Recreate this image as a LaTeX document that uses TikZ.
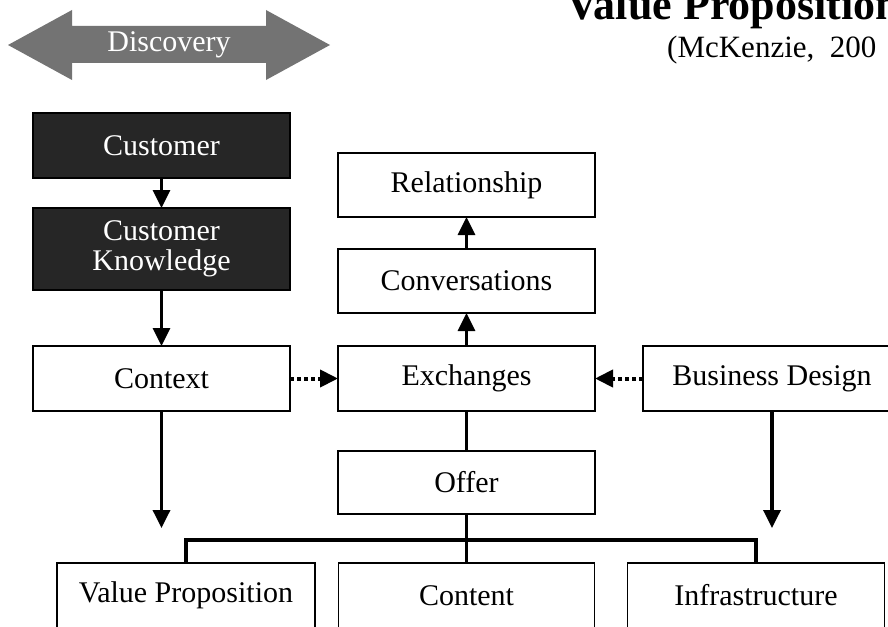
\documentclass[tikz,border=0pt]{standalone}
\usepackage{fontspec}
\setmainfont{Liberation Serif}
\usetikzlibrary{arrows.meta}
\begin{document}
\begin{tikzpicture}[x=1pt,y=-1pt,
  box/.style={draw=black, line width=1.8pt, fill=white, minimum width=257pt,
    minimum height=65pt, inner sep=0pt, outer sep=0pt, align=center,
    font=\fontsize{30}{30}\selectfont},
  darkbox/.style={box, fill=black!85, text=white},
  flow/.style={line width=3pt, -{Triangle[width=17pt,length=18pt]}},
  link/.style={line width=3.5pt, line join=miter},
  hint/.style={line width=4pt, dash pattern=on 4pt off 3pt,
    -{Triangle[width=17pt,length=18pt]}}
]
\useasboundingbox (0,0) rectangle (888,626);
\clip (0,0) rectangle (888,626);

% heading and citation
\node[anchor=base west, inner sep=0pt, font=\fontsize{44}{44}\selectfont\bfseries]
  (title) at (566,20) {Value Proposition};
\node[anchor=base west, inner sep=0pt, font=\fontsize{31}{31}\selectfont]
  (cite) at (667,58) {(McKenzie,\hspace{0.5em}200};

% double-headed discovery arrow
\fill[black!55] (8,45) -- (72,10) -- (72,26) -- (266,26) -- (266,10) -- (330,45)
  -- (266,80) -- (266,63) -- (72,63) -- (72,80) -- cycle;
\node[text=white, font=\fontsize{30}{30}\selectfont] (disc) at (169,45) {Discovery};

% left column
\node[darkbox] (cust) at (161.5,145.5) {Customer};
\node[darkbox, minimum height=82pt] (know) at (161.5,249) {Customer\\Knowledge};
\node[box] (ctx) at (161.5,378.5) {Context};

% centre column
\node[box, minimum height=64pt] (rel) at (466.5,185) {Relationship};
\node[box, minimum height=64pt] (conv) at (466.5,281) {Conversations};
\node[box] (exch) at (466.5,378.5) {Exchanges};
\node[box, minimum height=63pt] (offer) at (466.5,482.5) {Offer};

% right column
\node[box, minimum width=258pt] (biz) at (772,378.5) {Business Design};

% bottom row
\node[box, minimum width=258pt] (vp) at (186,595.5) {Value Proposition};
\node[box, minimum width=256pt] (content) at (466.5,595.5) {Content};
\node[box] (infra) at (756,595.5) {Infrastructure};

% free ends of the long arrows
\coordinate (ctxend) at (161.5,528);
\coordinate (bizend) at (772,528);
\coordinate (bus) at (466.5,540);

% connectors
\draw[flow] (cust) -- (know);
\draw[flow] (know) -- (ctx);
\draw[flow, line width=3.5pt] (ctx.south) -- (ctxend);
\draw[flow, line width=3.5pt] (biz.south) -- (bizend);
\draw[flow] (exch) -- (conv);
\draw[flow] (conv) -- (rel);
\draw[link] (exch) -- (offer);
\draw[link] (offer) -- (bus);
\draw[link] (vp.north) -- ++(0,-23) -| (infra.north);
\draw[link] (bus) -- (content.north);
\draw[hint] (ctx.east) -- (exch.west);
\draw[hint] (biz.west) -- (exch.east);
\end{tikzpicture}
\end{document}
